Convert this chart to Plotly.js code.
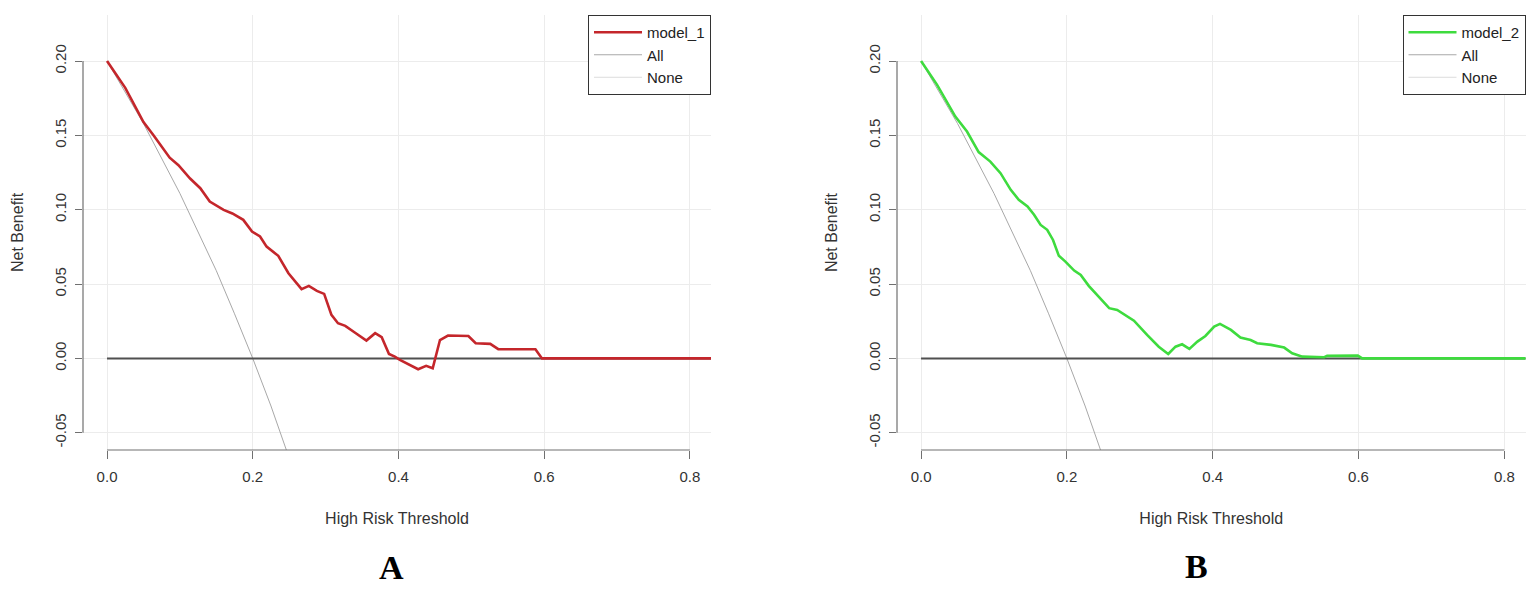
<!DOCTYPE html>
<html>
<head>
<meta charset="utf-8">
<script src="https://cdn.plot.ly/plotly-3.0.1.min.js"></script>
<style>html,body{margin:0;padding:0;background:#fff;}#chart{width:1535px;height:589px;}</style>
</head>
<body>
<div id="chart"></div>
<script>
// ---- data ----
const model1X = [0, 0.025, 0.05, 0.064, 0.086, 0.098, 0.114, 0.128, 0.141, 0.16, 0.172, 0.187, 0.199, 0.21, 0.219, 0.235, 0.249, 0.267, 0.277, 0.288, 0.298, 0.308, 0.317, 0.327, 0.340, 0.356, 0.368, 0.377, 0.387, 0.395, 0.402, 0.416, 0.427, 0.438, 0.447, 0.457, 0.468, 0.496, 0.506, 0.526, 0.537, 0.588, 0.597, 0.83];
const model1Y = [0.200, 0.182, 0.159, 0.150, 0.135, 0.130, 0.121, 0.1145, 0.1055, 0.0999, 0.0975, 0.0932, 0.0853, 0.082, 0.0752, 0.0690, 0.0573, 0.0466, 0.0488, 0.0454, 0.0434, 0.0293, 0.0237, 0.0219, 0.0174, 0.0120, 0.0170, 0.0143, 0.0030, 0.0012, -0.001, -0.0044, -0.0073, -0.0050, -0.0066, 0.0124, 0.0154, 0.0151, 0.0102, 0.0098, 0.0062, 0.0062, 0, 0];

const model2X = [0, 0.022, 0.047, 0.063, 0.079, 0.095, 0.109, 0.123, 0.134, 0.146, 0.155, 0.164, 0.173, 0.181, 0.189, 0.198, 0.210, 0.219, 0.230, 0.244, 0.258, 0.269, 0.283, 0.292, 0.310, 0.326, 0.339, 0.349, 0.358, 0.368, 0.379, 0.390, 0.402, 0.410, 0.425, 0.438, 0.452, 0.461, 0.480, 0.498, 0.509, 0.523, 0.553, 0.557, 0.599, 0.605, 0.83];
const model2Y = [0.200, 0.184, 0.1627, 0.1526, 0.1388, 0.1324, 0.1246, 0.1134, 0.1067, 0.1022, 0.0966, 0.0898, 0.0865, 0.0797, 0.0690, 0.0651, 0.0591, 0.0562, 0.0488, 0.0416, 0.0338, 0.0326, 0.0281, 0.0254, 0.0158, 0.0079, 0.0030, 0.0079, 0.0095, 0.0064, 0.0113, 0.0151, 0.0214, 0.0232, 0.0192, 0.0140, 0.0124, 0.0102, 0.0091, 0.0073, 0.0035, 0.0012, 0.0008, 0.0017, 0.0019, 0, 0];

const allX = [0, 0.05, 0.1, 0.15, 0.175, 0.2, 0.225, 0.25];
const allY = [0.2, 0.158, 0.111, 0.059, 0.030, 0, -0.032, -0.067];

const noneX = [0, 0.83];
const noneY = [0, 0];

const xTicks = [0, 0.2, 0.4, 0.6, 0.8];
const xTickText = ["0.0", "0.2", "0.4", "0.6", "0.8"];
const yTicks = [-0.05, 0, 0.05, 0.10, 0.15, 0.20];
const yTickText = ["-0.05", "0.00", "0.05", "0.10", "0.15", "0.20"];

const panelNames = ["model_1", "model_2"];
const panelLetters = ["A", "B"];

// ---- styling ----
const W = 1535, H = 589;
const FONT = "Liberation Sans, Arial, sans-serif";
const domA = [83 / W, 711 / W];
const domB = [897 / W, 1525.5 / W];
const domY = [1 - 450 / H, 1 - 15 / H];
const xRange = [-0.033, 0.829];
const yRange = [-0.0616, 0.231];

function mkTraces(mx, my, name, color, xa, ya, leg) {
  return [
    {x: allX, y: allY, type: 'scatter', mode: 'lines', name: 'All', xaxis: xa, yaxis: ya, legend: leg,
     line: {color: '#a8a8a8', width: 1}, legendrank: 2, hoverinfo: 'skip'},
    {x: noneX, y: noneY, type: 'scatter', mode: 'lines', name: 'None', xaxis: xa, yaxis: ya, legend: leg,
     line: {color: '#dcdcdc', width: 1}, legendrank: 3, hoverinfo: 'skip'},
    {x: noneX, y: noneY, type: 'scatter', mode: 'lines', name: 'zero', xaxis: xa, yaxis: ya, legend: leg,
     line: {color: '#505050', width: 2}, showlegend: false, hoverinfo: 'skip'},
    {x: mx, y: my, type: 'scatter', mode: 'lines', name: name, xaxis: xa, yaxis: ya, legend: leg,
     line: {color: color, width: 2.6}, legendrank: 1}
  ];
}

const traces = [].concat(
  mkTraces(model1X, model1Y, panelNames[0], '#c4262b', 'x', 'y', 'legend'),
  mkTraces(model2X, model2Y, panelNames[1], '#3edb3e', 'x2', 'y2', 'legend2')
);

function xAxis(dom, anchor) {
  return {
    domain: dom, anchor: anchor, range: xRange, showline: false, zeroline: false,
    tickvals: xTicks, ticktext: xTickText, ticks: 'outside', ticklen: 8, tickcolor: '#707070', tickwidth: 1,
    showgrid: true, gridcolor: '#ececec', gridwidth: 1,
    tickfont: {family: FONT, size: 15, color: '#333'}, ticklabelstandoff: 5,
    title: {text: 'High Risk Threshold', font: {family: FONT, size: 16, color: '#333'}, standoff: 28}
  };
}
function yAxis(anchor) {
  return {
    domain: domY, anchor: anchor, range: yRange, showline: false, zeroline: false,
    tickvals: yTicks, ticktext: yTickText, ticks: 'outside', ticklen: 7, tickcolor: '#707070', tickwidth: 1,
    tickangle: -90, showgrid: true, gridcolor: '#ececec', gridwidth: 1,
    tickfont: {family: FONT, size: 15, color: '#333'}, ticklabelstandoff: 3,
    title: {text: 'Net Benefit', font: {family: FONT, size: 16, color: '#333'}, standoff: 24}
  };
}

function axisLines(xr, yr) {
  const c = '#707070';
  return [
    {type: 'line', xref: xr, yref: yr + ' domain', x0: xTicks[0], x1: xTicks[xTicks.length - 1], y0: 0, y1: 0,
     line: {color: c, width: 1.2}},
    {type: 'line', xref: xr + ' domain', yref: yr, x0: 0, x1: 0, y0: yTicks[0], y1: yTicks[yTicks.length - 1],
     line: {color: c, width: 1.2}}
  ];
}

function legendCfg(xr) {
  return {x: xr, xanchor: 'right', y: 1 - 15 / H, yanchor: 'top', bgcolor: '#fff', bordercolor: '#333',
    borderwidth: 1, font: {family: FONT, size: 15, color: '#222'}, tracegroupgap: 0, traceorder: 'normal',
    itemwidth: 48};
}

const LETTER_FONT = {family: 'Liberation Serif, Times New Roman, serif', size: 34, color: '#000', weight: 'bold'};
const layout = {
  width: W, height: H, margin: {l: 0, r: 0, t: 0, b: 0},
  paper_bgcolor: '#fff', plot_bgcolor: '#fff', showlegend: true,
  font: {family: FONT, size: 15, color: '#333'},
  xaxis: xAxis(domA, 'y'), yaxis: yAxis('x'),
  xaxis2: xAxis(domB, 'y2'), yaxis2: yAxis('x2'),
  legend: legendCfg(domA[1]), legend2: legendCfg(domB[1]),
  shapes: axisLines('x', 'y').concat(axisLines('x2', 'y2')),
  annotations: [
    {text: panelLetters[0], xref: 'paper', yref: 'paper', x: 391 / W, y: 1 - 567 / H, xanchor: 'center',
     yanchor: 'middle', showarrow: false, font: LETTER_FONT},
    {text: panelLetters[1], xref: 'paper', yref: 'paper', x: 1196 / W, y: 1 - 566 / H, xanchor: 'center',
     yanchor: 'middle', showarrow: false, font: LETTER_FONT}
  ]
};

Plotly.newPlot('chart', traces, layout, {displayModeBar: false, staticPlot: true});
</script>
</body>
</html>
